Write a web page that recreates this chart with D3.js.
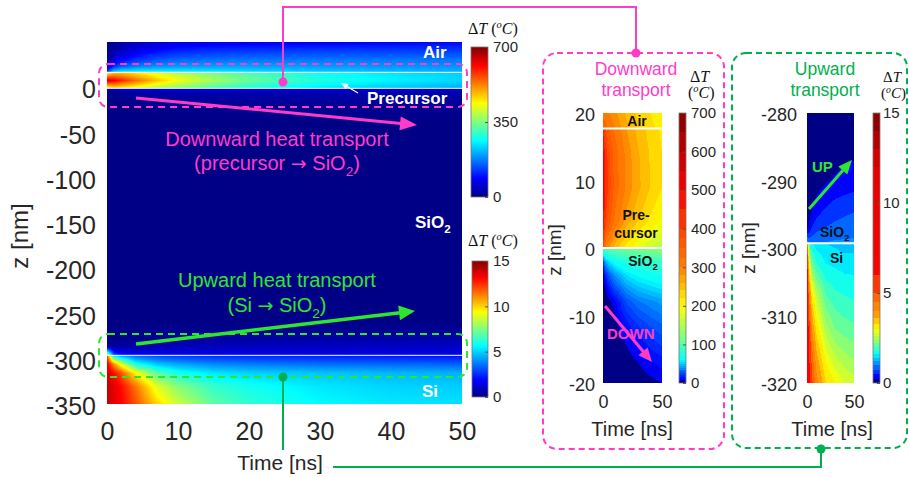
<!DOCTYPE html>
<html>
<head>
<meta charset="utf-8">
<script src="https://cdn.jsdelivr.net/npm/d3@7"></script>
<style>
  body { margin: 0; background: #fff; }
</style>
</head>
<body>
<svg id="fig" width="909" height="477"></svg>
<script>
// ---------------- values ----------------
// main panel: time columns (ns)
var timeGrid = [0, 1, 2, 4, 7, 10, 15, 20, 30, 40, 50];

// main panel, upper part, deltaT in C (0-700 colour bar)
var airDepths = [50, 40, 30, 23, 16.5];
var airDT = [
  [0, 10, 20, 35, 50, 60, 70, 75, 80, 85, 90],
  [0, 25, 45, 70, 95, 110, 120, 125, 130, 130, 130],
  [5, 60, 90, 120, 145, 160, 165, 170, 170, 170, 170],
  [30, 120, 150, 175, 190, 195, 200, 200, 195, 190, 190],
  [150, 240, 260, 265, 265, 262, 255, 245, 230, 220, 212]
];
var precDepths = [16.5, 7.5, -1.2];
var precDT = [
  [420, 470, 470, 450, 410, 380, 340, 310, 270, 245, 228],
  [640, 620, 590, 540, 480, 430, 375, 335, 285, 255, 235],
  [420, 450, 440, 420, 380, 350, 310, 280, 245, 222, 205]
];
var oxTopDepths = [-1.2, -6, -11, -20, -40];
var oxTopDT = [
  [40, 60, 70, 75, 78, 80, 80, 80, 78, 76, 75],
  [0, 5, 12, 20, 25, 28, 30, 30, 30, 30, 30],
  [0, 0, 5, 10, 15, 18, 20, 21, 22, 22, 22],
  [0, 0, 0, 0, 3, 5, 7, 8, 9, 10, 10],
  [0, 0, 0, 0, 0, 0, 0, 0, 0, 0, 0]
];
// main panel, lower part (0-15 colour bar)
var oxBotDepths = [-260, -276, -286, -296.2];
var oxBotDT = [
  [0, 0, 0, 0, 0, 0, 0, 0, 0, 0, 0],
  [0, 0, 0.05, 0.1, 0.2, 0.25, 0.3, 0.35, 0.4, 0.45, 0.5],
  [0.2, 0.3, 0.4, 0.5, 0.6, 0.7, 0.8, 0.85, 0.9, 0.95, 1.0],
  [9, 3, 2.2, 1.9, 1.8, 1.7, 1.6, 1.6, 1.5, 1.5, 1.5]
];
var siDepths = [-296.2, -306, -316, -331, -350];
var siDT = [
  [12, 5, 4, 3.2, 2.8, 2.6, 2.4, 2.3, 2.2, 2.1, 2.0],
  [13.5, 11, 9, 6, 4.8, 4.3, 3.9, 3.7, 3.5, 3.4, 3.3],
  [14, 13, 12, 9.5, 7, 6, 5.3, 5.0, 4.8, 4.6, 4.5],
  [14, 13.5, 13, 11.5, 9, 7.6, 6.4, 5.9, 5.3, 5.0, 4.9],
  [14, 13.5, 13.2, 12, 10, 8.6, 7.0, 6.3, 5.6, 5.3, 5.2]
];

// zoom "Downward transport" (z 20 .. -20)
var zoomTimes = [0, 2, 5, 10, 20, 30, 40, 50];
var downAirDepths = [20, 17.7];
var downAirDT = [
  [300, 310, 300, 285, 255, 235, 220, 210],
  [360, 340, 320, 300, 265, 242, 225, 212]
];
var downPrecDepths = [17.7, 14, 9, 4, 0];
var downPrecDT = [
  [440, 380, 350, 320, 280, 252, 232, 216],
  [530, 420, 385, 338, 292, 262, 238, 220],
  [550, 430, 390, 340, 295, 265, 240, 220],
  [510, 400, 365, 320, 272, 240, 216, 198],
  [380, 305, 280, 250, 210, 184, 165, 150]
];
var downOxDepths = [0, -2, -4, -6, -8, -11, -14, -17, -20];
var downOxDT = [
  [95, 100, 105, 110, 118, 122, 126, 130],
  [20, 45, 55, 65, 75, 80, 84, 88],
  [2, 15, 28, 40, 55, 62, 66, 70],
  [0, 4, 12, 25, 40, 48, 52, 56],
  [0, 0, 3, 8, 26, 34, 38, 42],
  [0, 0, 0, 2, 14, 22, 27, 31],
  [0, 0, 0, 0, 6, 12, 17, 22],
  [0, 0, 0, 0, 1, 5, 9, 12],
  [0, 0, 0, 0, 0, 1, 3, 5]
];

// zoom "Upward transport" (z -280 .. -320)
var upOxDepths = [-280, -285, -290, -294, -297, -299.3];
var upOxDT = [
  [0, 0, 0, 0, 0, 0.02, 0.05, 0.08],
  [0, 0, 0, 0.02, 0.08, 0.12, 0.16, 0.18],
  [0, 0, 0.05, 0.12, 0.22, 0.28, 0.32, 0.35],
  [0, 0.05, 0.2, 0.35, 0.5, 0.6, 0.66, 0.7],
  [0.1, 0.3, 0.5, 0.65, 0.76, 0.82, 0.86, 0.9],
  [1.2, 0.95, 0.95, 1.0, 1.02, 1.05, 1.05, 1.05]
];
var upSiDepths = [-299.3, -303, -307, -312, -316, -320];
var upSiDT = [
  [5.0, 2.0, 1.6, 1.5, 1.4, 1.35, 1.3, 1.3],
  [7, 3.2, 2.3, 1.9, 1.65, 1.6, 1.55, 1.55],
  [7.5, 4.5, 3.2, 2.6, 2.0, 1.85, 1.8, 1.75],
  [8, 5.6, 4.0, 3.2, 2.5, 2.2, 2.1, 2.05],
  [8, 6.2, 4.8, 3.7, 2.9, 2.6, 2.45, 2.35],
  [8, 6.6, 5.2, 4.2, 3.3, 3.0, 2.8, 2.7]
];

// ticks
var mainZTicks = [0, -50, -100, -150, -200, -250, -300, -350];
var mainTTicks = [0, 10, 20, 30, 40, 50];
var barTopTicks = [0, 350, 700];
var barBotTicks = [0, 5, 10, 15];
var downZTicks = [20, 10, 0, -10, -20];
var upZTicks = [-280, -290, -300, -310, -320];
var zoomTTicks = [0, 50];
var downBarTicks = [0, 100, 200, 300, 400, 500, 600, 700];
var upBarTicks = [0, 5, 10, 15];

// contour levels and colour bar anchors of the two zoom panels
var downLevels = [0, 5, 10, 15, 20, 25, 30, 35, 40, 45, 50, 55, 60, 70, 80, 90, 100, 110, 120, 135, 150, 165, 180,
  200, 220, 240, 260, 280, 300, 325, 350, 375, 400, 450, 500, 550, 600, 650, 700];
var upLevels = [0, 0.25, 0.5, 0.75, 1, 1.2, 1.4, 1.6, 1.8, 2, 2.2, 2.4, 2.6, 2.8, 3, 3.3, 3.6, 4, 4.5, 5, 6, 7, 8,
  9, 10, 11, 12, 13, 14, 15];
var downBarStops = [0, 8, 30, 60, 120, 200, 300, 500, 700];
var downBarPos = [0, 0.12, 0.22, 0.375, 0.5, 0.625, 0.75, 0.875, 1];
var upBarStops = [0, 0.25, 0.75, 1.6, 2.24, 3.0, 3.8, 5.2, 6.2, 12, 15];
var upBarPos = [0, 0.1, 0.2, 0.375, 0.5, 0.625, 0.72, 0.8, 0.875, 0.9, 1];

// ---------------- drawing ----------------
var FONT = "'Liberation Sans', Arial, sans-serif";
var SERIF = "'Liberation Serif', 'DejaVu Serif', serif";
var PINK = "#ff3cc7", GREEN = "#2ee62e", DKGREEN = "#00b050", INK = "#262626";

var svg = d3.select("#fig");
svg.append("rect").attr("width", 909).attr("height", 477).attr("fill", "#fff");

var jet = d3.scaleLinear()
  .domain([0, 0.125, 0.375, 0.625, 0.875, 1])
  .range(["#000086", "#0000ff", "#00ffff", "#ffff00", "#ff0000", "#800000"])
  .clamp(true);

var topFrac = d3.scaleLinear().domain([0, 700]).range([0, 1]).clamp(true);
var botFrac = d3.scaleLinear().domain([0, 15]).range([0, 1]).clamp(true);
var downFrac = d3.scaleLinear().domain(downBarStops).range(downBarPos).clamp(true);
var upFrac = d3.scaleLinear().domain(upBarStops).range(upBarPos).clamp(true);

function topColor(v) { return jet(topFrac(v)); }
function botColor(v) { return jet(botFrac(v)); }
function banded(levels, frac) {
  return function(v) {
    var i = Math.max(0, Math.min(levels.length - 2, d3.bisectRight(levels, v) - 1));
    if (i === 0) return jet(0);
    return jet(frac((levels[i] + levels[i + 1]) / 2));
  };
}
var downColor = banded(downLevels, downFrac);
var upColor = banded(upLevels, upFrac);

function layer(times, depths, rows, color) {
  var ti = d3.scaleLinear().domain(times).range(d3.range(times.length)).clamp(true);
  var zi = d3.scaleLinear().domain(depths).range(d3.range(depths.length)).clamp(true);
  return {
    hi: d3.max(depths), lo: d3.min(depths), color: color,
    f: function(t, z) {
      var a = ti(t), b = zi(z);
      var i = Math.min(Math.floor(a), times.length - 2), j = Math.min(Math.floor(b), depths.length - 2);
      var fa = a - i, fb = b - j;
      var r0 = rows[j][i] * (1 - fa) + rows[j][i + 1] * fa;
      var r1 = rows[j + 1][i] * (1 - fa) + rows[j + 1][i + 1] * fa;
      return r0 * (1 - fb) + r1 * fb;
    }
  };
}

function raster(g, x0, y0, w, h, pix) {
  var cv = document.createElement("canvas");
  cv.width = w; cv.height = h;
  var ctx = cv.getContext("2d");
  var img = ctx.createImageData(w, h);
  for (var py = 0; py < h; py++) {
    for (var px = 0; px < w; px++) {
      var c = d3.rgb(pix(px, py));
      var k = (py * w + px) * 4;
      img.data[k] = c.r; img.data[k + 1] = c.g; img.data[k + 2] = c.b; img.data[k + 3] = 255;
    }
  }
  ctx.putImageData(img, 0, 0);
  g.append("image").attr("x", x0).attr("y", y0).attr("width", w).attr("height", h)
    .attr("preserveAspectRatio", "none").attr("href", cv.toDataURL());
}

function heatmap(g, x, y, layers) {
  var x0 = x.range()[0], y0 = y.range()[0];
  var w = Math.round(x.range()[1] - x0), h = Math.round(y.range()[1] - y0);
  raster(g, x0, y0, w, h, function(px, py) {
    var z = y.invert(y0 + py + 0.5), t = x.invert(x0 + px + 0.5);
    for (var i = 0; i < layers.length; i++) {
      var L = layers[i];
      if (z <= L.hi && z >= L.lo) return L.color(L.f(t, z));
    }
    return jet(0);
  });
}

function colorBar(g, x0, y0, w, h, domain, color, ticks, pad, size) {
  var s = d3.scaleLinear().domain(domain).range([y0 + h, y0]);
  raster(g, x0, y0, w, h, function(px, py) { return color(s.invert(y0 + py + 0.5)); });
  g.append("rect").attr("x", x0).attr("y", y0).attr("width", w).attr("height", h)
    .attr("fill", "none").attr("stroke", "#777").attr("stroke-width", 0.8);
  var ax = g.append("g").attr("transform", "translate(" + (x0 + w) + ",0)")
    .call(d3.axisRight(s).tickValues(ticks).tickSize(-3).tickPadding(pad).tickFormat(function(d) { return String(d); }));
  ax.select(".domain").remove();
  ax.selectAll("line").attr("stroke", "#555");
  ax.selectAll("text").attr("font-family", FONT).attr("font-size", size).attr("fill", INK);
}

function styleAxis(ax, size) {
  ax.select(".domain").remove();
  ax.selectAll("line").remove();
  ax.selectAll("text").attr("font-family", FONT).attr("font-size", size).attr("fill", INK);
}

function label(g, x, y, txt, size, opts) {
  opts = opts || {};
  return g.append("text").attr("x", x).attr("y", y).attr("font-family", FONT)
    .attr("font-size", size).attr("font-weight", opts.bold ? "bold" : null)
    .attr("text-anchor", opts.anchor || "start").attr("fill", opts.fill || INK).text(txt);
}

// "SiO2" with a real subscript; optional text before (with an arrow) and after
function oxide(g, x, y, size, fill, anchor, before, arrowAfter, after) {
  var t = g.append("text").attr("x", x).attr("y", y).attr("font-family", FONT).attr("font-size", size)
    .attr("font-weight", before === null ? "bold" : null)
    .attr("text-anchor", anchor).attr("fill", fill);
  if (before) {
    t.append("tspan").text(before);
    t.append("tspan").attr("font-family", "'DejaVu Sans', sans-serif").attr("font-size", size * 0.95).text("\u2192");
    t.append("tspan").text(" ");
  }
  t.append("tspan").text("SiO");
  t.append("tspan").attr("dy", size * 0.28).attr("font-size", size * 0.68).text("2");
  if (after) t.append("tspan").attr("dy", -size * 0.28).text(after);
  return t;
}

function dtTitle(g, x, y, size, twoLines) {
  var t = g.append("text").attr("x", x).attr("y", y).attr("font-family", SERIF).attr("font-size", size).attr("fill", "#111");
  t.append("tspan").text("\u0394");
  t.append("tspan").attr("font-style", "italic").text("T");
  var t2 = t;
  if (twoLines) {
    t2 = g.append("text").attr("x", x - 2).attr("y", y + 16).attr("font-family", SERIF).attr("font-size", size).attr("fill", "#111");
    t2.append("tspan").text("(");
  } else {
    t.append("tspan").text(" (");
  }
  t2.append("tspan").attr("dy", -size * 0.35).attr("font-size", size * 0.65).attr("font-style", "italic").text("o");
  t2.append("tspan").attr("dy", size * 0.35).attr("font-style", "italic").text("C");
  t2.append("tspan").text(")");
}

function arrow(g, x1, y1, x2, y2, color, w, hl, hw) {
  var a = Math.atan2(y2 - y1, x2 - x1), c = Math.cos(a), s = Math.sin(a);
  var bx = x2 - hl * c, by = y2 - hl * s;
  g.append("line").attr("x1", x1).attr("y1", y1).attr("x2", bx + c).attr("y2", by + s)
    .attr("stroke", color).attr("stroke-width", w);
  g.append("path").attr("fill", color)
    .attr("d", "M" + x2 + "," + y2 + "L" + (bx + hw / 2 * s) + "," + (by - hw / 2 * c) +
      "L" + (bx - hw / 2 * s) + "," + (by + hw / 2 * c) + "Z");
}

function hline(g, x, y, z, w) {
  g.append("line").attr("x1", x.range()[0]).attr("x2", x.range()[1])
    .attr("y1", y(z)).attr("y2", y(z)).attr("stroke", "#fff").attr("stroke-width", w);
}

// ---- main panel ----
var xMain = d3.scaleLinear().domain([0, 50]).range([107, 462]);
var yMain = d3.scaleLinear().domain([50, -350]).range([42, 404]);
var gMain = svg.append("g");
heatmap(gMain, xMain, yMain, [
  layer(timeGrid, airDepths, airDT, topColor),
  layer(timeGrid, precDepths, precDT, topColor),
  layer(timeGrid, oxTopDepths, oxTopDT, topColor),
  layer(timeGrid, oxBotDepths, oxBotDT, botColor),
  layer(timeGrid, siDepths, siDT, botColor)
]);
hline(gMain, xMain, yMain, precDepths[0], 1);
hline(gMain, xMain, yMain, precDepths[2], 1);
hline(gMain, xMain, yMain, siDepths[0], 1);

var axL = gMain.append("g").attr("transform", "translate(107,0)")
  .call(d3.axisLeft(yMain).tickValues(mainZTicks).tickSize(0).tickPadding(11).tickFormat(function(d) { return String(d); }));
styleAxis(axL, 25);
axL.selectAll("text").attr("dy", "0.42em");
var axB = gMain.append("g").attr("transform", "translate(0,404)")
  .call(d3.axisBottom(xMain).tickValues(mainTTicks).tickSize(0).tickPadding(18));
styleAxis(axB, 25);
label(gMain, 280, 470, "Time [ns]", 21, { anchor: "middle" });
label(gMain, 0, 0, "z [nm]", 24, { anchor: "middle" }).attr("transform", "translate(28,236) rotate(-90)");

label(gMain, 423, 58, "Air", 17, { bold: true, fill: "#fff" });
label(gMain, 367, 104, "Precursor", 17, { bold: true, fill: "#fff" });
oxide(gMain, 415, 228, 17, "#fff", "start", null);
label(gMain, 422, 397, "Si", 17, { bold: true, fill: "#fff" });
arrow(gMain, 358, 93, 341, 83, "#fff", 1.2, 7, 6);

// colour bars of the main panel
dtTitle(svg, 468, 34, 16, false);
colorBar(svg, 471, 47, 17, 150, [0, 700], topColor, barTopTicks, 5, 15);
dtTitle(svg, 468, 246, 16, false);
colorBar(svg, 472, 261, 16, 136, [0, 15], botColor, barBotTicks, 5, 15);

// ---- zoom: downward ----
var xDown = d3.scaleLinear().domain([0, 50]).range([603, 662]);
var yDown = d3.scaleLinear().domain([20, -20]).range([113, 383]);
var gDown = svg.append("g");
heatmap(gDown, xDown, yDown, [
  layer(zoomTimes, downAirDepths, downAirDT, downColor),
  layer(zoomTimes, downPrecDepths, downPrecDT, downColor),
  layer(zoomTimes, downOxDepths, downOxDT, downColor)
]);
hline(gDown, xDown, yDown, downPrecDepths[0], 2);
hline(gDown, xDown, yDown, 0, 2);
var dL = gDown.append("g").attr("transform", "translate(603,0)")
  .call(d3.axisLeft(yDown).tickValues(downZTicks).tickSize(0).tickPadding(8).tickFormat(function(d) { return String(d); }));
styleAxis(dL, 18);
dL.selectAll("text").attr("dy", "0.42em");
var dB = gDown.append("g").attr("transform", "translate(0,383)")
  .call(d3.axisBottom(xDown).tickValues(zoomTTicks).tickSize(0).tickPadding(12));
styleAxis(dB, 18);
label(gDown, 632, 436, "Time [ns]", 20, { anchor: "middle" });
label(gDown, 0, 0, "z [nm]", 19, { anchor: "middle" }).attr("transform", "translate(561,250) rotate(-90)");
label(gDown, 637, 126, "Air", 14, { bold: true, anchor: "middle", fill: "#111" });
label(gDown, 636, 220, "Pre-", 14, { bold: true, anchor: "middle", fill: "#111" });
label(gDown, 636, 238, "cursor", 14, { bold: true, anchor: "middle", fill: "#111" });
oxide(gDown, 643, 266, 14, "#111", "middle", null);
arrow(gDown, 605, 306, 652, 362, PINK, 3, 14, 12);
label(gDown, 607, 339, "DOWN", 15, { bold: true, fill: PINK });
label(gDown, 636, 75, "Downward", 17.5, { anchor: "middle", fill: PINK });
label(gDown, 636, 96, "transport", 17.5, { anchor: "middle", fill: PINK });
dtTitle(gDown, 690, 82, 16, true);
colorBar(gDown, 679, 113, 7, 270, [0, 700], downColor, downBarTicks, 5, 15);

// ---- zoom: upward ----
var xUp = d3.scaleLinear().domain([0, 50]).range([807, 854]);
var yUp = d3.scaleLinear().domain([-280, -320]).range([113, 383]);
var gUp = svg.append("g");
heatmap(gUp, xUp, yUp, [
  layer(zoomTimes, upOxDepths, upOxDT, upColor),
  layer(zoomTimes, upSiDepths, upSiDT, upColor)
]);
hline(gUp, xUp, yUp, upSiDepths[0], 2);
var uL = gUp.append("g").attr("transform", "translate(807,0)")
  .call(d3.axisLeft(yUp).tickValues(upZTicks).tickSize(0).tickPadding(10).tickFormat(function(d) { return String(d); }));
styleAxis(uL, 18);
uL.selectAll("text").attr("dy", "0.42em");
var uB = gUp.append("g").attr("transform", "translate(0,383)")
  .call(d3.axisBottom(xUp).tickValues(zoomTTicks).tickSize(0).tickPadding(12));
styleAxis(uB, 18);
label(gUp, 832, 436, "Time [ns]", 20, { anchor: "middle" });
label(gUp, 0, 0, "z [nm]", 19, { anchor: "middle" }).attr("transform", "translate(755,248) rotate(-90)");
oxide(gUp, 820, 237, 14, "#111", "start", null);
label(gUp, 830, 263, "Si", 14, { bold: true, fill: "#111" });
arrow(gUp, 809, 209, 852, 160, GREEN, 3, 14, 12);
label(gUp, 812, 172, "UP", 15, { bold: true, fill: GREEN });
label(gUp, 825, 75, "Upward", 17.5, { anchor: "middle", fill: DKGREEN });
label(gUp, 825, 96, "transport", 17.5, { anchor: "middle", fill: DKGREEN });
dtTitle(gUp, 883, 82, 15, true);
colorBar(gUp, 873, 113, 7, 270, [0, 15], upColor, upBarTicks, 3, 15);

// ---- annotations on the main panel ----
var gAnn = svg.append("g");
gAnn.append("rect").attr("x", 99).attr("y", 64).attr("width", 368).attr("height", 43).attr("rx", 9)
  .attr("fill", "none").attr("stroke", PINK).attr("stroke-width", 2).attr("stroke-dasharray", "7 5");
gAnn.append("rect").attr("x", 99).attr("y", 334).attr("width", 368).attr("height", 43).attr("rx", 9)
  .attr("fill", "none").attr("stroke", GREEN).attr("stroke-width", 2).attr("stroke-dasharray", "7 5");
arrow(gAnn, 136, 98, 417, 125, PINK, 3, 17, 14);
arrow(gAnn, 136, 344, 415, 311, GREEN, 3.5, 16, 15);
label(gAnn, 277, 146, "Downward heat transport", 20, { anchor: "middle", fill: PINK });
oxide(gAnn, 277, 170, 20, PINK, "middle", "(precursor ", true, ")");
label(gAnn, 277, 287, "Upward heat transport", 20, { anchor: "middle", fill: GREEN });
oxide(gAnn, 277, 312, 20, GREEN, "middle", "(Si ", true, ")");

// boxes round the zoom panels
gAnn.append("rect").attr("x", 543).attr("y", 53).attr("width", 181).attr("height", 396).attr("rx", 14)
  .attr("fill", "none").attr("stroke", PINK).attr("stroke-width", 2).attr("stroke-dasharray", "6 4");
gAnn.append("rect").attr("x", 732).attr("y", 53).attr("width", 175).attr("height", 395).attr("rx", 14)
  .attr("fill", "none").attr("stroke", DKGREEN).attr("stroke-width", 2).attr("stroke-dasharray", "6 4");

// connectors
gAnn.append("path").attr("d", "M283,82V7H636V53").attr("fill", "none").attr("stroke", PINK).attr("stroke-width", 2);
gAnn.append("circle").attr("cx", 283).attr("cy", 82).attr("r", 4.5).attr("fill", PINK);
gAnn.append("circle").attr("cx", 636).attr("cy", 53).attr("r", 4.5).attr("fill", PINK);
gAnn.append("path").attr("d", "M283,377V450").attr("fill", "none").attr("stroke", DKGREEN).attr("stroke-width", 2);
gAnn.append("path").attr("d", "M333,467H821V449").attr("fill", "none").attr("stroke", DKGREEN).attr("stroke-width", 2);
gAnn.append("circle").attr("cx", 283).attr("cy", 377).attr("r", 4.5).attr("fill", DKGREEN);
gAnn.append("circle").attr("cx", 821).attr("cy", 449).attr("r", 4.5).attr("fill", DKGREEN);
</script>
</body>
</html>
